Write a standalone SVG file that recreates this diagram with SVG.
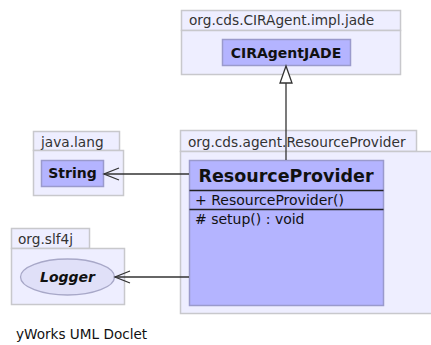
<svg xmlns="http://www.w3.org/2000/svg" width="431" height="345" viewBox="0 0 431 345">
<style>
.pkg{fill:#eeeeff;stroke:#c8c8cc;stroke-width:1.5}
.cls{fill:#b4b4ff;stroke:#9a9acc;stroke-width:1.5}
.t{font-family:"DejaVu Sans",sans-serif;fill:#111}
.pl{font-size:13.7px;fill:#333}
.cn{font-size:14px;font-weight:bold}
.mem{font-size:14px}
.edge{stroke:#333;stroke-width:1.3;fill:none}
</style>
<rect width="431" height="345" fill="#ffffff"/>
<g id="pkg-jade">
<rect class="pkg" x="181.5" y="10.5" width="219" height="20"/>
<rect class="pkg" x="181.5" y="30.5" width="219" height="44"/>
<text class="t pl" x="189" y="25">org.cds.CIRAgent.impl.jade</text>
</g>
<g id="CIRAgentJADE">
<rect class="cls" x="222.5" y="39.5" width="128" height="26"/>
<text class="t cn" x="286" y="57.5" text-anchor="middle" font-size="14.4">CIRAgentJADE</text>
</g>
<g id="pkg-javalang">
<rect class="pkg" x="33.5" y="131.5" width="86" height="19"/>
<rect class="pkg" x="33.5" y="150.5" width="90" height="45"/>
<text class="t pl" x="41" y="146.5">java.lang</text>
</g>
<g id="String">
<rect class="cls" x="41.5" y="160.5" width="62" height="26"/>
<text class="t cn" x="72.5" y="178" text-anchor="middle">String</text>
</g>
<g id="pkg-slf4j">
<rect class="pkg" x="11.5" y="228.5" width="78" height="20"/>
<rect class="pkg" x="11.5" y="248.5" width="113" height="56"/>
<text class="t pl" x="18" y="244">org.slf4j</text>
</g>
<g id="Logger">
<ellipse cx="67.5" cy="277" rx="47" ry="18" fill="#e0e0f8" stroke="#a8a8c8" stroke-width="1.3"/>
<text class="t cn" x="67.5" y="282" text-anchor="middle" font-style="italic">Logger</text>
</g>
<g id="pkg-agent">
<rect class="pkg" x="180.5" y="130.5" width="236" height="21"/>
<rect class="pkg" x="180.5" y="151.5" width="255" height="162"/>
<text class="t pl" x="188" y="146.5" font-size="14.1">org.cds.agent.ResourceProvider</text>
</g>
<g id="ResourceProvider">
<rect class="cls" x="189.5" y="160.5" width="194" height="145"/>
<line x1="189.5" y1="190.5" x2="383.5" y2="190.5" stroke="#222" stroke-width="1.3"/>
<line x1="189.5" y1="209.5" x2="383.5" y2="209.5" stroke="#222" stroke-width="1.3"/>
<text class="t" x="286" y="182" text-anchor="middle" font-size="17.5" font-weight="bold">ResourceProvider</text>
<text class="t mem" x="195" y="205">+ ResourceProvider()</text>
<text class="t mem" x="195" y="224"># setup() : void</text>
</g>
<g id="connectors">
<line class="edge" x1="286" y1="160" x2="286" y2="83"/>
<polygon points="286,66 280,83 292,83" fill="#ffffff" stroke="#333" stroke-width="1.3"/>
<line class="edge" x1="189" y1="174" x2="104" y2="174"/>
<polyline class="edge" points="119,168 104,174 119,180"/>
<line class="edge" x1="189" y1="277" x2="115" y2="277"/>
<polyline class="edge" points="130,271 115,277 130,283"/>
</g>
<text class="t" x="16" y="339" font-size="13.6" fill="#111">yWorks UML Doclet</text>
</svg>
